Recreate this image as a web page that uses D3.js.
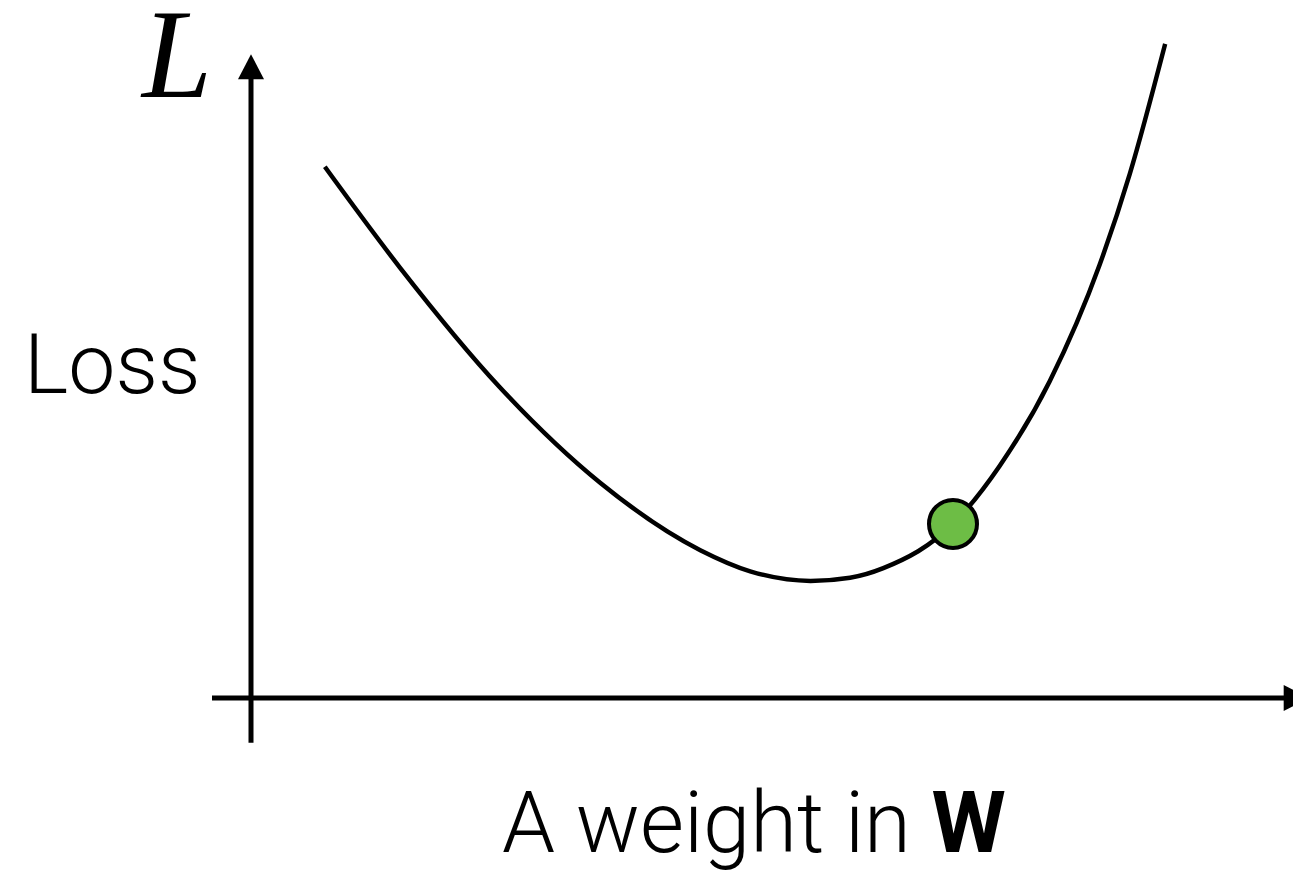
<!DOCTYPE html>
<html>
<head>
<meta charset="utf-8">
<script src="https://cdn.jsdelivr.net/npm/d3@7"></script>
<style>
  html, body { margin: 0; padding: 0; background: #fff; }
  svg { display: block; }
</style>
</head>
<body>
<svg id="chart" width="1293" height="870"></svg>
<script>
// ---- data ----
const weights = [0.71, 1.43, 2.39, 3.36, 4.32, 4.80, 5.38, 5.76, 6.08, 6.75, 7.20, 7.68, 8.16, 8.45, 8.79];
const losses  = [8.30, 6.73, 4.86, 3.36, 2.31, 1.98, 1.83, 1.88, 2.03, 2.72, 3.63, 4.95, 6.77, 8.19, 10.22];
const currentWeight = [6.75];
const currentLoss = [2.72];
const xExtent = [-0.375, 10.17];   // horizontal axis: start, arrow tip
const yExtent = [-0.70, 10.06];    // vertical axis: bottom, arrow tip
const yAxisTitle = "L";
const lossLabel = "Loss";
const xLabelText = "A weight in ";
const xLabelBold = "W";

// ---- scales ----
const x = d3.scaleLinear().domain([0, 10]).range([251, 1291]);
const y = d3.scaleLinear().domain([0, 10]).range([698, 58]);

const svg = d3.select("#chart");
const head = 25, halfW = 13;

// horizontal axis
const hx0 = x(xExtent[0]), hx1 = x(xExtent[1]), hy = y(0);
svg.append("line")
  .attr("x1", hx0).attr("x2", hx1 - head + 2).attr("y1", hy).attr("y2", hy)
  .attr("stroke", "#000").attr("stroke-width", 5);
svg.append("path")
  .attr("d", d3.line()([[hx1, hy], [hx1 - head, hy - halfW], [hx1 - head, hy + halfW]]) + "Z")
  .attr("fill", "#000");

// vertical axis
const vx = x(0), vy0 = y(yExtent[0]), vy1 = y(yExtent[1]);
svg.append("line")
  .attr("x1", vx).attr("x2", vx).attr("y1", vy0).attr("y2", vy1 + head - 2)
  .attr("stroke", "#000").attr("stroke-width", 5);
svg.append("path")
  .attr("d", d3.line()([[vx, vy1], [vx - halfW, vy1 + head], [vx + halfW, vy1 + head]]) + "Z")
  .attr("fill", "#000");

// curve
const pts = weights.map((w, i) => [w, losses[i]]);
svg.append("path")
  .datum(pts)
  .attr("d", d3.line().x(d => x(d[0])).y(d => y(d[1])).curve(d3.curveMonotoneX))
  .attr("fill", "none").attr("stroke", "#000").attr("stroke-width", 4.5);

// current point
svg.selectAll("circle.pt").data(currentWeight).enter().append("circle")
  .attr("class", "pt")
  .attr("cx", d => x(d)).attr("cy", (d, i) => y(currentLoss[i]))
  .attr("r", 24)
  .attr("fill", "#6dbd45").attr("stroke", "#000").attr("stroke-width", 4);

// labels
svg.append("text")
  .attr("x", 142).attr("y", 97)
  .attr("font-family", "'Liberation Serif', 'DejaVu Serif', serif")
  .attr("font-style", "italic")
  .attr("font-size", 126)
  .text(yAxisTitle);

svg.append("text")
  .attr("x", 24).attr("y", 393)
  .attr("font-family", "Roboto, 'Open Sans', sans-serif")
  .attr("font-weight", 300)
  .attr("font-size", 84)
  .text(lossLabel);

const xl = svg.append("text")
  .attr("x", 502).attr("y", 852)
  .attr("font-family", "Roboto, 'Open Sans', sans-serif")
  .attr("font-weight", 300)
  .attr("font-size", 85);
xl.append("tspan").text(xLabelText);
xl.append("tspan").attr("font-weight", 700).text(xLabelBold);
</script>
</body>
</html>
